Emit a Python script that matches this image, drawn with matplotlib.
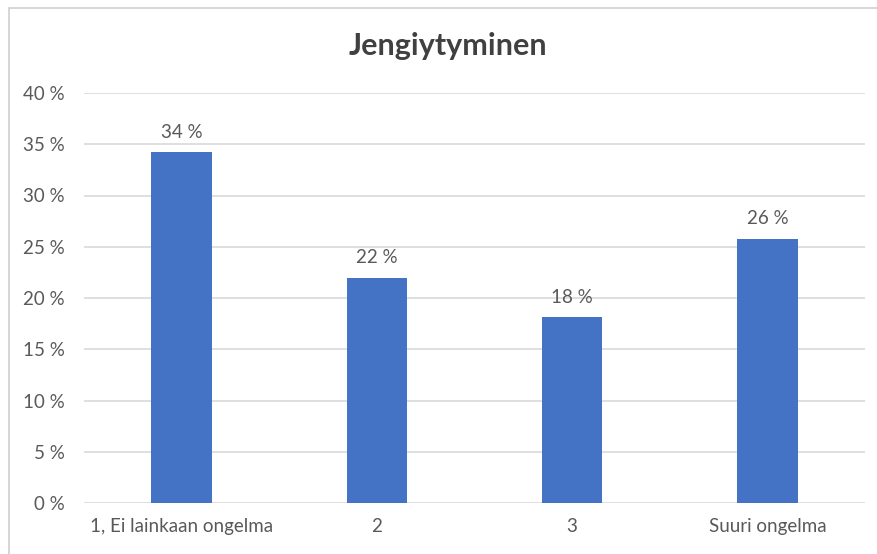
import matplotlib
matplotlib.use("Agg")
import matplotlib.pyplot as plt
from matplotlib.patches import Rectangle
from matplotlib.ticker import FuncFormatter, MultipleLocator

# data
luokat = ["1, Ei lainkaan ongelma", "2", "3", "Suuri ongelma"]
osuudet = [0.342, 0.22, 0.181, 0.258]
otsikko = "Jengiytyminen"

plt.rcParams["font.family"] = ["Lato", "DejaVu Sans"]
harmaa = "#595959"

fig = plt.figure(figsize=(8.77, 5.54), dpi=100)
W, H = 877, 554

# chart border (top + left visible)
fig.add_artist(Rectangle((9 / W, -0.05), 1.1, (H - 8) / H + 0.05, transform=fig.transFigure,
                         fill=False, edgecolor="#D0D0D0", linewidth=1.2))

ax = fig.add_axes([84 / W, (H - 503) / H, (865 - 84) / W, (503 - 93) / H])
x = range(len(luokat))
palkit = ax.bar(x, osuudet, width=0.31, color="#4472C4", zorder=3)

ax.set_ylim(0, 0.40)
ax.set_xlim(-0.5, len(luokat) - 0.5)
ax.yaxis.set_major_locator(MultipleLocator(0.05))
ax.yaxis.set_major_formatter(FuncFormatter(lambda v, p: f"{round(v * 100)} %"))
ax.grid(axis="y", color="#D9D9D9", linewidth=1.2, zorder=0)
for s in ax.spines.values():
    s.set_visible(False)
ax.tick_params(length=0, labelsize=13.5, colors=harmaa)
ax.tick_params(axis="y", pad=14)
ax.tick_params(axis="x", pad=11)
ax.set_xticks(list(x))
ax.set_xticklabels(luokat)

for p, v in zip(palkit, osuudet):
    ax.annotate(f"{round(v * 100)} %", (p.get_x() + p.get_width() / 2, v),
                xytext=(0, 8), textcoords="offset points", ha="center", va="bottom",
                fontsize=13.5, color=harmaa)

fig.text(448 / W, 1 - 46 / H, otsikko, ha="center", va="center", fontsize=22,
         fontweight="bold", color="#404040")

fig.savefig("out.png", dpi=100)
